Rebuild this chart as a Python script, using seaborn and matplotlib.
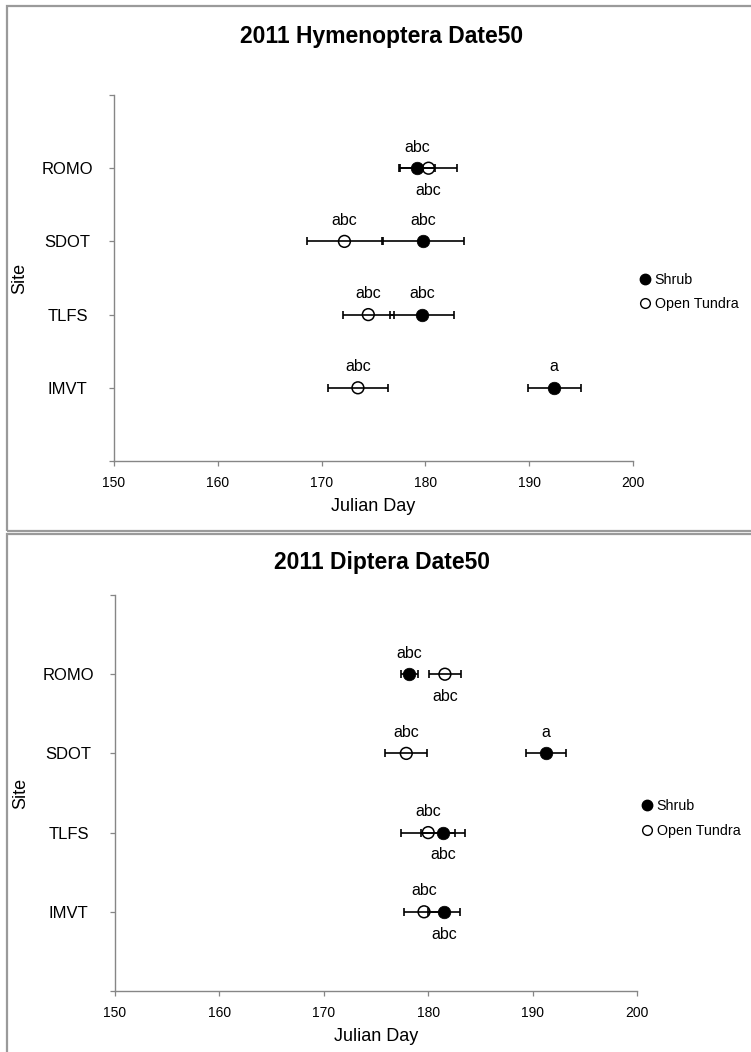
import matplotlib
matplotlib.use("Agg")
import matplotlib.pyplot as plt
from matplotlib.lines import Line2D
from matplotlib.patches import Rectangle
import seaborn as sns
import pandas as pd

sns.set_theme(style="white")
plt.rcParams["font.family"] = ["Liberation Sans", "DejaVu Sans"]
plt.rcParams["text.color"] = "black"
plt.rcParams["axes.labelcolor"] = "black"
plt.rcParams["xtick.labelcolor"] = "black"
plt.rcParams["ytick.labelcolor"] = "black"

# Sites, top to bottom on the category axis
sites = ["ROMO", "SDOT", "TLFS", "IMVT"]
site_pos = [4, 3, 2, 1]
x_ticks = [150, 160, 170, 180, 190, 200]

# Hymenoptera: mean Date50 (Julian day) and standard error per habitat
hym_shrub_mean = [179.2, 179.8, 179.7, 192.4]
hym_shrub_se = [1.7, 3.9, 3.1, 2.55]
hym_open_mean = [180.3, 172.2, 174.5, 173.5]
hym_open_se = [2.7, 3.65, 2.45, 2.85]
hym_shrub_letters = ["abc", "abc", "abc", "a"]
hym_open_letters = ["abc", "abc", "abc", "abc"]
hym_shrub_side = ["above", "above", "above", "above"]
hym_open_side = ["below", "above", "above", "above"]

# Diptera: mean Date50 (Julian day) and standard error per habitat
dip_shrub_mean = [178.2, 191.3, 181.45, 181.5]
dip_shrub_se = [0.83, 1.9, 2.1, 1.5]
dip_open_mean = [181.6, 177.9, 180.0, 179.6]
dip_open_se = [1.5, 2.0, 2.6, 1.95]
dip_shrub_letters = ["abc", "a", "abc", "abc"]
dip_open_letters = ["abc", "abc", "abc", "abc"]
dip_shrub_side = ["above", "above", "below", "below"]
dip_open_side = ["below", "above", "above", "above"]

W, H = 751, 1052
fig = plt.figure(figsize=(W / 100, H / 100), dpi=100)

AXIS_GREY = "#868686"


def frame(y_top, y_bot):
    fig.add_artist(Rectangle((7 / W, 1 - y_bot / H), (W + 20) / W, (y_bot - y_top) / H,
                             transform=fig.transFigure, fill=False,
                             edgecolor="#9a9a9a", linewidth=1.6, clip_on=False))


def panel(rect, title, title_y, shrub_mean, shrub_se, open_mean, open_se,
          shrub_letters, open_letters, shrub_side, open_side, legend_anchor):
    ax = fig.add_axes(rect)
    df_s = pd.DataFrame({"day": shrub_mean, "pos": site_pos, "Habitat": "Shrub"})
    df_o = pd.DataFrame({"day": open_mean, "pos": site_pos, "Habitat": "Open Tundra"})

    ax.errorbar(open_mean, site_pos, xerr=open_se, fmt="none", ecolor="black",
                elinewidth=1.2, capsize=2.6, capthick=1.2, zorder=2)
    ax.errorbar(shrub_mean, site_pos, xerr=shrub_se, fmt="none", ecolor="black",
                elinewidth=1.2, capsize=2.6, capthick=1.2, zorder=2)
    sns.scatterplot(data=df_o, x="day", y="pos", ax=ax, s=72, marker="o",
                    facecolor="none", edgecolor="black", linewidth=1.1,
                    legend=False, zorder=3)
    sns.scatterplot(data=df_s, x="day", y="pos", ax=ax, s=82, marker="o",
                    color="black", edgecolor="black", linewidth=0.5,
                    legend=False, zorder=4)

    for means, letters, sides in ((shrub_mean, shrub_letters, shrub_side),
                                  (open_mean, open_letters, open_side)):
        for m, p, t, sd in zip(means, site_pos, letters, sides):
            dy = 15 if sd == "above" else -16
            ax.annotate(t, (m, p), xytext=(0, dy), textcoords="offset points",
                        ha="center", va="center", fontsize=11.5, color="black")

    ax.set_xlim(150, 200)
    ax.set_ylim(0, 5)
    ax.set_xticks(x_ticks)
    ax.set_xticklabels([str(v) for v in x_ticks])
    ax.set_yticks([0] + site_pos[::-1] + [5])
    ax.set_yticklabels([""] + sites[::-1] + [""])
    for lab in ax.get_yticklabels():
        lab.set_horizontalalignment("center")
    ax.tick_params(axis="x", direction="out", length=3.5, width=0.9, color=AXIS_GREY,
                   labelcolor="black", labelsize=10, pad=7, bottom=True)
    ax.tick_params(axis="y", direction="out", length=3.5, width=0.9, color=AXIS_GREY,
                   labelcolor="black", labelsize=12, pad=30, left=True)
    for side in ("top", "right"):
        ax.spines[side].set_visible(False)
    for side in ("left", "bottom"):
        ax.spines[side].set_color(AXIS_GREY)
        ax.spines[side].set_linewidth(1.0)
    ax.set_facecolor("white")
    ax.grid(False)

    ax.set_xlabel("Julian Day", fontsize=13, labelpad=6, color="black")
    ax.set_ylabel("Site", fontsize=13, color="black")
    ax.yaxis.set_label_coords(-0.165, 0.5)

    fig.text(0.508, 1 - title_y / H, title, ha="center", va="center",
             fontsize=16.5, fontweight="bold", color="black")

    handles = [
        Line2D([], [], linestyle="none", marker="o", markersize=7.5,
               markerfacecolor="black", markeredgecolor="black"),
        Line2D([], [], linestyle="none", marker="o", markersize=7,
               markerfacecolor="none", markeredgecolor="black", markeredgewidth=1.0),
    ]
    leg = ax.legend(handles, ["Shrub", "Open Tundra"], loc="center left",
                    bbox_to_anchor=legend_anchor, frameon=False, fontsize=10.3,
                    handlelength=0.7, handletextpad=0.3, labelspacing=0.7,
                    borderaxespad=0, borderpad=0)
    for txt in leg.get_texts():
        txt.set_color("black")
    return ax


frame(6, 531)
frame(534, H + 20)

panel([114 / W, 1 - 461 / H, 519 / W, 366 / H], "2011 Hymenoptera Date50", 37,
      hym_shrub_mean, hym_shrub_se, hym_open_mean, hym_open_se,
      hym_shrub_letters, hym_open_letters, hym_shrub_side, hym_open_side,
      (1.014, 0.462))
panel([115 / W, 1 - 991 / H, 522 / W, 396 / H], "2011 Diptera Date50", 563,
      dip_shrub_mean, dip_shrub_se, dip_open_mean, dip_open_se,
      dip_shrub_letters, dip_open_letters, dip_shrub_side, dip_open_side,
      (1.01, 0.4356))

fig.savefig("out.png", dpi=100, facecolor="white")
